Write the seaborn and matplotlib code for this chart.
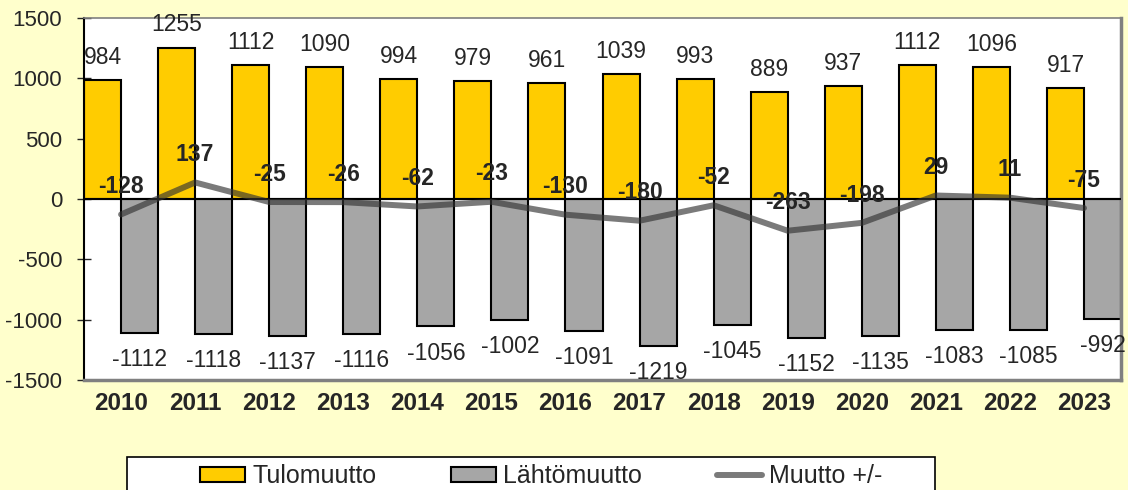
import matplotlib.pyplot as plt
import numpy as np
import pandas as pd
import seaborn as sns
from matplotlib.lines import Line2D
from matplotlib.patches import Patch, Rectangle

years = [str(y) for y in range(2010, 2024)]
tulomuutto = [984, 1255, 1112, 1090, 994, 979, 961, 1039, 993, 889, 937, 1112, 1096, 917]
lahtomuutto = [-1112, -1118, -1137, -1116, -1056, -1002, -1091, -1219, -1045, -1152,
               -1135, -1083, -1085, -992]
muutto_netto = [-128, 137, -25, -26, -62, -23, -130, -180, -52, -263, -198, 29, 11, -75]

series_names = ["Tulomuutto", "Lähtömuutto", "Muutto +/-"]
yticks = [-1500, -1000, -500, 0, 500, 1000, 1500]

BG = "#FFFFCC"
YELLOW = "#FFCC00"
GRAY = "#A6A6A6"
LINE = "#333333"

sns.set_theme(style="white")
plt.rcParams["font.family"] = ["Liberation Sans", "DejaVu Sans"]
plt.rcParams["axes.unicode_minus"] = False

df = pd.DataFrame({
    "Vuosi": years * 2,
    "Muutto": tulomuutto + lahtomuutto,
    "Sarja": [series_names[0]] * len(years) + [series_names[1]] * len(years),
})

fig, ax = plt.subplots(figsize=(11.28, 4.90), dpi=100)
fig.patch.set_facecolor(BG)
ax.set_facecolor("white")
fig.subplots_adjust(left=0.0745, right=0.9938, top=0.9633, bottom=0.2245)

sns.barplot(
    data=df, x="Vuosi", y="Muutto", hue="Sarja", hue_order=series_names[:2],
    palette=[YELLOW, GRAY], width=1.0, edgecolor="black", linewidth=1.5,
    saturation=1, legend=False, ax=ax, zorder=2,
)

ax.axhline(0, color="black", lw=1.5, zorder=3)

x = np.arange(len(years))
sns.lineplot(x=x, y=muutto_netto, color=LINE, alpha=0.65, lw=4.3, ax=ax,
             zorder=4, legend=False)

# value labels
ax.bar_label(ax.containers[0], labels=[str(v) for v in tulomuutto], padding=8, fontsize=16.5)
ax.bar_label(ax.containers[1], labels=[str(v) for v in lahtomuutto], padding=11, fontsize=16.5)
for i, v in enumerate(muutto_netto):
    ax.annotate(str(v), (i, v), xytext=(0, 20), textcoords="offset points",
                ha="center", va="center", fontsize=16.5, fontweight="bold", zorder=5)

ax.set_xlim(-0.5, len(years) - 0.5)
ax.set_ylim(-1500, 1500)
ax.set_yticks(yticks)
ax.set_yticklabels([str(t) for t in yticks])
ax.set_xlabel("")
ax.set_ylabel("")
ax.tick_params(axis="y", direction="inout", length=9.4, width=1, pad=11,
               labelsize=16, left=True)
ax.tick_params(axis="x", length=0, pad=9, labelsize=17.5)
for lab in ax.get_xticklabels():
    lab.set_fontweight("bold")

ax.spines["left"].set_color("black")
ax.spines["left"].set_linewidth(1.5)
for side, lw in [("top", 1.2), ("right", 2.5), ("bottom", 2.5)]:
    ax.spines[side].set_color("#808080")
    ax.spines[side].set_linewidth(lw)

# legend box (cut by the lower edge of the picture)
fig.patches.append(Rectangle((127 / 1128, -0.05), (935 - 127) / 1128, 33 / 490 + 0.05,
                             transform=fig.transFigure, facecolor="white",
                             edgecolor="black", lw=1.2, zorder=1))
handles = [
    Patch(facecolor=YELLOW, edgecolor="black", lw=1.5),
    Patch(facecolor=GRAY, edgecolor="black", lw=1.5),
    Line2D([0], [0], color=LINE, alpha=0.65, lw=4.3, solid_capstyle="round"),
]
leg = fig.legend(handles, series_names, loc="center", ncol=3, frameon=False,
                 bbox_to_anchor=(541.5 / 1128, 1 - 476 / 490), fontsize=18,
                 handlelength=1.8, handleheight=0.56, handletextpad=0.28,
                 columnspacing=3.0, borderpad=0)
leg.set_zorder(2)

fig.savefig("out.png", dpi=100, facecolor=BG)
